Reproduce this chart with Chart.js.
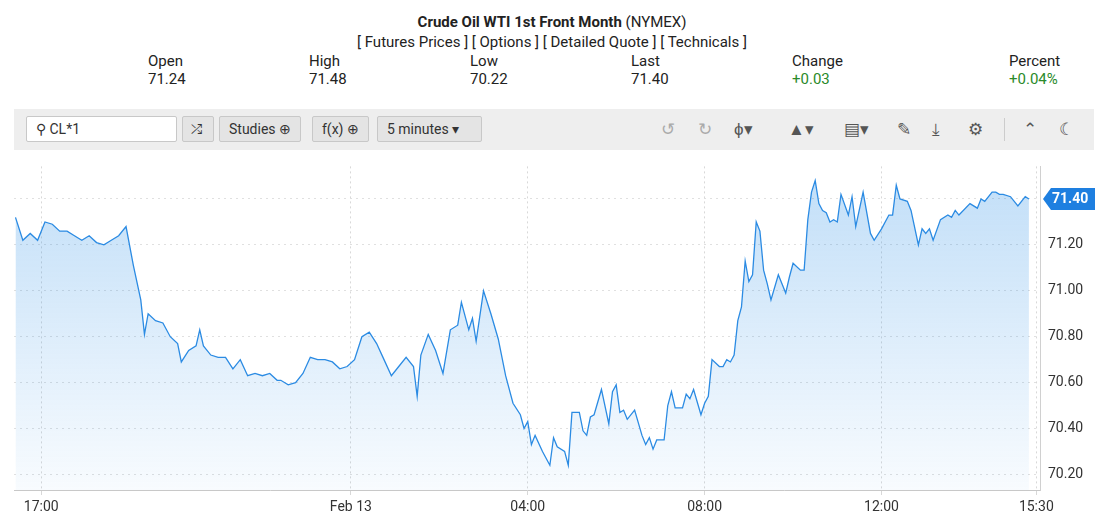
<!DOCTYPE html>
<html>
<head>
<meta charset="utf-8">
<script src="https://cdn.jsdelivr.net/npm/chart.js@4/dist/chart.umd.min.js"></script>
<style>
  body{margin:0;width:1104px;height:516px;overflow:hidden;background:#fff;font-family:Roboto,"Liberation Sans",sans-serif;color:#222;position:relative}
  .title{position:absolute;top:13px;left:0;width:1104px;text-align:center;font-size:15px}
  .links{position:absolute;top:33px;left:0;width:1104px;text-align:center;font-size:15px}
  .stat{position:absolute;top:52px;font-size:15px;line-height:18px}
  .up{color:#2a8a2a}
  .bar{position:absolute;left:14px;top:109px;width:1080px;height:41px;background:#eeeeee}
  .box{position:absolute;top:7px;height:26px;box-sizing:border-box;border:1px solid #c8c8c8;background:#e4e4e4;border-radius:2px;font-size:14px;line-height:24px;padding:0 9px;color:#333}
  .icon{position:absolute;top:10px;font-size:17px;color:#555}
  #wrap{position:absolute;left:0;top:150px;width:1104px;height:366px}
</style>
</head>
<body>
<div class="title"><b>Crude Oil WTI 1st Front Month</b> (NYMEX)</div>
<div class="links">[ Futures Prices ] [ Options ] [ Detailed Quote ] [ Technicals ]</div>
<div class="stat" style="left:148px">Open<br>71.24</div>
<div class="stat" style="left:309px">High<br>71.48</div>
<div class="stat" style="left:470px">Low<br>70.22</div>
<div class="stat" style="left:631px">Last<br>71.40</div>
<div class="stat" style="left:792px">Change<br><span class="up">+0.03</span></div>
<div class="stat" style="left:1009px">Percent<br><span class="up">+0.04%</span></div>
<div class="bar">
  <div class="box" style="left:12px;width:151px;background:#fff;color:#333">&#9906; CL*1</div>
  <div class="box" style="left:168px;width:32px;padding:0 8px">&#10542;</div>
  <div class="box" style="left:205px">Studies &#8853;</div>
  <div class="box" style="left:298px">f(x) &#8853;</div>
  <div class="box" style="left:363px;width:105px">5 minutes &#9662;</div>
  <div class="icon" style="left:647px;color:#aaa">&#8634;</div>
  <div class="icon" style="left:684px;color:#aaa">&#8635;</div>
  <div class="icon" style="left:720px">&#981;&#9662;</div>
  <div class="icon" style="left:774px">&#9650;&#9662;</div>
  <div class="icon" style="left:830px">&#9636;&#9662;</div>
  <div class="icon" style="left:883px">&#9998;</div>
  <div class="icon" style="left:918px">&#10515;</div>
  <div class="icon" style="left:954px">&#9881;</div>
  <div style="position:absolute;left:990px;top:9px;width:1px;height:23px;background:#ccc"></div>
  <div class="icon" style="left:1009px">&#8963;</div>
  <div class="icon" style="left:1045px">&#9790;</div>
</div>
<div id="wrap"><canvas id="c"></canvas></div>
<script>
// minutes since 17:00 (Feb 12) for each 5-minute sample
const minutes = [
  -35,-25,-15,-5,5,15,25,35,45,55,65,75,85,95,105,115,125,135,140,145,
  155,165,175,185,190,200,210,215,220,230,240,250,260,270,280,290,300,310,320,
  325,335,345,355,365,375,385,395,405,415,425,435,445,455,465,475,485,495,505,
  510,515,525,535,545,555,565,570,580,585,590,600,610,620,630,640,650,655,660,
  665,670,680,690,695,700,710,715,720,730,735,740,745,750,760,770,775,780,785,
  790,795,805,815,820,825,830,835,845,850,855,860,870,875,880,885,895,900,905,
  910,920,925,930,935,940,945,950,955,960,965,970,975,980,985,990,1000,1010,
  1015,1020,1030,1035,1040,1045,1050,1055,1060,1065,1070,1075,1080,1085,1095,
  1100,1105,1115,1125,1130,1140,1150,1155,1160,1165,1175,1180,1190,1195,1200,
  1205,1210,1220,1230,1235,1240,1245,1260,1270,1275,1280,1290,1295,1300,1305,
  1315,1325,1335,1340
];
const prices = [
  71.32,71.22,71.25,71.22,71.30,71.29,71.26,71.26,71.24,71.22,71.24,71.21,71.20,71.22,71.24,71.28,71.11,70.96,70.81,70.90,
  70.87,70.86,70.80,70.77,70.69,70.74,70.76,70.83,70.76,70.72,70.71,70.71,70.66,70.70,70.63,70.64,70.63,70.64,70.61,
  70.61,70.59,70.60,70.64,70.71,70.70,70.70,70.69,70.66,70.67,70.70,70.80,70.82,70.77,70.70,70.63,70.67,70.71,70.67,
  70.54,70.72,70.81,70.74,70.64,70.83,70.85,70.95,70.83,70.88,70.78,71.00,70.90,70.79,70.63,70.51,70.46,70.40,70.43,
  70.33,70.37,70.30,70.24,70.36,70.32,70.30,70.24,70.47,70.47,70.39,70.37,70.45,70.46,70.57,70.42,70.56,70.59,70.47,
  70.48,70.44,70.48,70.37,70.33,70.36,70.31,70.35,70.35,70.50,70.56,70.49,70.49,70.55,70.53,70.57,70.46,70.51,70.54,
  70.70,70.67,70.67,70.70,70.69,70.72,70.87,70.93,71.13,71.04,71.07,71.30,71.26,71.09,71.03,70.96,71.07,70.99,
  71.06,71.12,71.09,71.09,71.31,71.43,71.48,71.38,71.35,71.34,71.30,71.31,71.30,71.42,71.33,
  71.41,71.28,71.43,71.25,71.22,71.27,71.33,71.33,71.46,71.40,71.39,71.35,71.20,71.27,71.25,
  71.27,71.22,71.31,71.33,71.32,71.35,71.33,71.38,71.36,71.40,71.39,71.43,71.43,71.42,71.42,
  71.41,71.37,71.41,71.40
];
const tickMinutes = [0, 420, 660, 900, 1140, 1350];
const tickLabels = ["17:00", "Feb 13", "04:00", "08:00", "12:00", "15:30"];
const yTicks = [70.20, 70.40, 70.60, 70.80, 71.00, 71.20, 71.40];
const lastPrice = 71.40;

const points = minutes.map((m, i) => ({x: m, y: prices[i]}));

const lastBadge = {
  id: "lastBadge",
  afterDraw(chart){
    const ctx = chart.ctx, y = chart.scales.y.getPixelForValue(lastPrice);
    const x0 = chart.chartArea.right + 3;
    ctx.save();
    ctx.fillStyle = "#1e7fe0";
    ctx.beginPath();
    ctx.moveTo(x0, y);
    ctx.lineTo(x0 + 8, y - 11);
    ctx.lineTo(x0 + 52, y - 11);
    ctx.lineTo(x0 + 52, y + 11);
    ctx.lineTo(x0 + 8, y + 11);
    ctx.closePath();
    ctx.fill();
    ctx.fillStyle = "#fff";
    ctx.font = "bold 14px Roboto";
    ctx.textBaseline = "middle";
    ctx.fillText(lastPrice.toFixed(2), x0 + 9, y + 1);
    ctx.restore();
  }
};

new Chart(document.getElementById("c"), {
  type: "line",
  data: {
    datasets: [{
      data: points,
      borderColor: "#2b8be3",
      borderWidth: 1.3,
      pointRadius: 0,
      tension: 0,
      fill: "start",
      backgroundColor(context){
        const area = context.chart.chartArea;
        if(!area) return "rgba(30,136,229,0.15)";
        const g = context.chart.ctx.createLinearGradient(0, area.top, 0, area.bottom);
        g.addColorStop(0, "rgba(30,136,229,0.28)");
        g.addColorStop(1, "rgba(30,136,229,0.03)");
        return g;
      }
    }]
  },
  options: {
    responsive: true,
    maintainAspectRatio: false,
    animation: false,
    layout: {padding: {left: 14, top: 0, right: 0, bottom: 0}},
    plugins: {legend: {display: false}, tooltip: {enabled: false}},
    scales: {
      x: {
        type: "linear",
        min: -37, max: 1355,
        afterBuildTicks(s){ s.ticks = tickMinutes.map(v => ({value: v})); },
        afterFit(s){ s.height = 26; },
        ticks: {
          autoSkip: false, maxRotation: 0, padding: 4,
          color: "#333", font: {family: "Roboto", size: 14},
          callback(v){ const i = tickMinutes.indexOf(v); return i >= 0 ? tickLabels[i] : ""; }
        },
        grid: {color: "#d8d8d8", tickLength: 5, drawTicks: true},
        border: {color: "#c8c8c8", dash: [2, 3]}
      },
      y: {
        position: "right",
        min: 70.132, max: 71.542,
        afterBuildTicks(s){ s.ticks = yTicks.map(v => ({value: v})); },
        afterFit(s){ s.width = 64; },
        ticks: {
          color: "#333", font: {family: "Roboto", size: 14}, padding: 8,
          callback(v){ return v === 71.40 ? "" : v.toFixed(2); }
        },
        grid: {color: "#e0e0e0", drawTicks: false},
        border: {color: "#d0d0d0", dash: [2, 4]}
      }
    }
  },
  plugins: [lastBadge]
});
</script>
</body>
</html>
